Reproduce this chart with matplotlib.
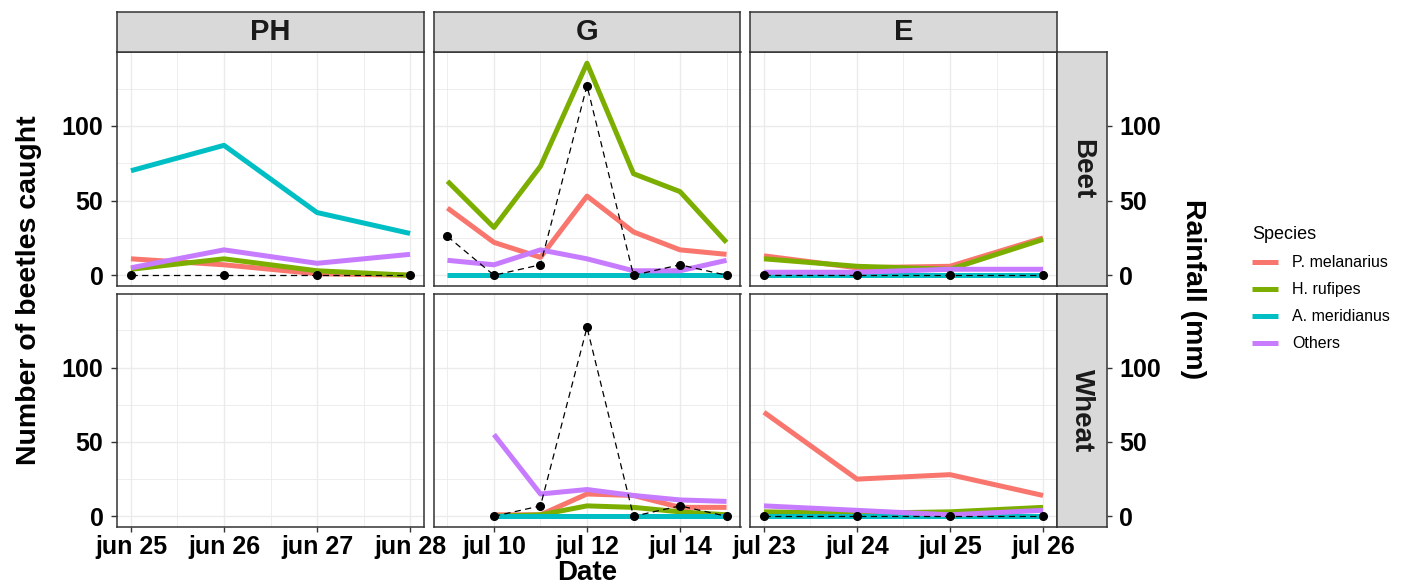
import datetime as dt

import matplotlib
matplotlib.use("Agg")
import matplotlib.pyplot as plt
import matplotlib.dates as mdates
from matplotlib.lines import Line2D
from matplotlib.ticker import FixedLocator, FuncFormatter

plt.rcParams['font.family'] = ['Liberation Sans', 'DejaVu Sans']

# ---------------------------------------------------------------- data
species = ["P. melanarius", "H. rufipes", "A. meridianus", "Others"]
species_colors = ["#F8766D", "#7CAE00", "#00BFC4", "#C77CFF"]
sites = ["PH", "G", "E"]
crops = ["Beet", "Wheat"]

ph_dates = ["2019-06-25", "2019-06-26", "2019-06-27", "2019-06-28"]
g_dates = ["2019-07-09", "2019-07-10", "2019-07-11", "2019-07-12",
           "2019-07-13", "2019-07-14", "2019-07-15"]
g_wheat_dates = g_dates[1:]
e_dates = ["2019-07-23", "2019-07-24", "2019-07-25", "2019-07-26"]

ph_ticks = ph_dates
g_ticks = ["2019-07-10", "2019-07-12", "2019-07-14"]
e_ticks = e_dates

# PH - Beet
ph_beet_melanarius = [11, 7, 1, 0]
ph_beet_rufipes = [4, 11, 3, 0]
ph_beet_meridianus = [70, 87, 42, 28]
ph_beet_others = [5, 17, 8, 14]
ph_beet_rain = [0, 0, 0, 0]

# G - Beet
g_beet_melanarius = [45, 22, 12, 53, 29, 17, 14]
g_beet_rufipes = [63, 32, 73, 142, 68, 56, 22]
g_beet_meridianus = [0, 0, 0, 0, 0, 0, 0]
g_beet_others = [10, 7, 17, 11, 3, 3, 10]
g_beet_rain = [26, 0, 7, 127, 0, 7, 0]

# G - Wheat
g_wheat_melanarius = [1, 1, 15, 14, 6, 6]
g_wheat_rufipes = [0, 1, 7, 6, 3, 1]
g_wheat_meridianus = [0, 0, 0, 0, 0, 0]
g_wheat_others = [55, 15, 18, 14, 11, 10]
g_wheat_rain = [0, 7, 127, 0, 7, 0]

# E - Beet
e_beet_melanarius = [13, 5, 6, 25]
e_beet_rufipes = [11, 6, 4, 24]
e_beet_meridianus = [0, 0, 0, 0]
e_beet_others = [2, 2, 4, 4]
e_beet_rain = [0, 0, 0, 0]

# E - Wheat
e_wheat_melanarius = [70, 25, 28, 14]
e_wheat_rufipes = [3, 2, 3, 6]
e_wheat_meridianus = [0, 0, 0, 0]
e_wheat_others = [7, 4, 1, 4]
e_wheat_rain = [0, 0, 0, 0]

y_major = [0, 50, 100]
y_minor = [25, 75, 125]

# ---------------------------------------------------------------- helpers
def to_num(dates):
    return [mdates.date2num(dt.datetime.strptime(d, "%Y-%m-%d")) for d in dates]


panels = {
    ("PH", "Beet"): (ph_dates, [ph_beet_melanarius, ph_beet_rufipes,
                                ph_beet_meridianus, ph_beet_others], ph_beet_rain),
    ("PH", "Wheat"): None,
    ("G", "Beet"): (g_dates, [g_beet_melanarius, g_beet_rufipes,
                              g_beet_meridianus, g_beet_others], g_beet_rain),
    ("G", "Wheat"): (g_wheat_dates, [g_wheat_melanarius, g_wheat_rufipes,
                                     g_wheat_meridianus, g_wheat_others], g_wheat_rain),
    ("E", "Beet"): (e_dates, [e_beet_melanarius, e_beet_rufipes,
                              e_beet_meridianus, e_beet_others], e_beet_rain),
    ("E", "Wheat"): (e_dates, [e_wheat_melanarius, e_wheat_rufipes,
                               e_wheat_meridianus, e_wheat_others], e_wheat_rain),
}
site_dates = {"PH": ph_dates, "G": g_dates, "E": e_dates}
site_ticks = {"PH": ph_ticks, "G": g_ticks, "E": e_ticks}


def minor_ticks(site):
    t = to_num(site_ticks[site])
    d = to_num(site_dates[site])
    step = t[1] - t[0]
    out = []
    v = t[0] - step / 2
    while v <= d[-1] + 1e-9:
        if v >= d[0] - 1e-9:
            out.append(v)
        v += step
    return out


date_fmt = FuncFormatter(lambda x, pos: mdates.num2date(x).strftime("%b %d").lower())

# ---------------------------------------------------------------- layout (pixels)
W, H = 1421, 586
fig = plt.figure(figsize=(W / 100, H / 100), dpi=100)

col_x = [(117, 424), (433.5, 740.5), (750, 1057)]
row_y = [(52, 286), (294, 527)]
strip_top = (12, 52)
strip_right = (1057, 1107)


def rect(x0, x1, y0, y1):
    return [x0 / W, 1 - y1 / H, (x1 - x0) / W, (y1 - y0) / H]


border = "#333333"
grid_c = "#EBEBEB"
ylim = (-7.2, 149.5)

for ci, site in enumerate(sites):
    dnum = to_num(site_dates[site])
    span = dnum[-1] - dnum[0]
    xlim = (dnum[0] - 0.05 * span, dnum[-1] + 0.05 * span)
    for ri, crop in enumerate(crops):
        ax = fig.add_axes(rect(col_x[ci][0], col_x[ci][1], row_y[ri][0], row_y[ri][1]))
        ax.set_xlim(*xlim)
        ax.set_ylim(*ylim)
        ax.set_facecolor("white")
        for s in ax.spines.values():
            s.set_color(border)
            s.set_linewidth(1.1)
            s.set_zorder(10)
        ax.xaxis.set_major_locator(FixedLocator(to_num(site_ticks[site])))
        ax.xaxis.set_minor_locator(FixedLocator(minor_ticks(site)))
        ax.yaxis.set_major_locator(FixedLocator(y_major))
        ax.yaxis.set_minor_locator(FixedLocator(y_minor))
        ax.grid(which="major", color=grid_c, lw=1.0, zorder=0)
        ax.grid(which="minor", color=grid_c, lw=0.6, zorder=0)
        ax.set_axisbelow(True)
        ax.tick_params(which="minor", length=0)
        ax.tick_params(which="major", color=border, width=1.0)
        ax.tick_params(axis="x", length=3.6, pad=2.5, labelsize=18)
        ax.tick_params(axis="y", length=4.3, pad=5.5, labelsize=18)

        if ri == 1:
            ax.xaxis.set_major_formatter(date_fmt)
            for lab in ax.get_xticklabels():
                lab.set_fontweight("bold")
        else:
            ax.tick_params(axis="x", length=0, labelbottom=False)
        if ci == 0:
            for lab in ax.get_yticklabels():
                lab.set_fontweight("bold")
        else:
            ax.tick_params(axis="y", length=0, labelleft=False)

        data = panels[(site, crop)]
        if data is not None:
            dates, series, rain = data
            x = to_num(dates)
            for vals, col in zip(series, species_colors):
                ax.plot(x, vals, color=col, lw=3.6, solid_capstyle="butt",
                        solid_joinstyle="round", zorder=3)
            ax.plot(x, rain, color="black", lw=0.9, ls="--", dashes=(5, 3.5),
                    marker="o", ms=5.5, zorder=5)

        # column strips on top
        if ri == 0:
            sax = fig.add_axes(rect(col_x[ci][0], col_x[ci][1], strip_top[0], strip_top[1]))
            sax.set_facecolor("#D9D9D9")
            sax.set_xticks([])
            sax.set_yticks([])
            for s in sax.spines.values():
                s.set_color(border)
                s.set_linewidth(1.1)
            sax.text(0.5, 0.5, site, transform=sax.transAxes, ha="center",
                     va="center", fontsize=21, fontweight="bold", color="#1A1A1A")

# row strips on the right, carrying the rainfall axis
for ri, crop in enumerate(crops):
    rax = fig.add_axes(rect(strip_right[0], strip_right[1], row_y[ri][0], row_y[ri][1]))
    rax.set_facecolor("#D9D9D9")
    rax.set_ylim(*ylim)
    rax.set_xticks([])
    rax.yaxis.tick_right()
    rax.yaxis.set_major_locator(FixedLocator(y_major))
    rax.tick_params(axis="y", length=3.6, width=1.0, color=border, pad=5, labelsize=18)
    for lab in rax.get_yticklabels():
        lab.set_fontweight("bold")
    for s in rax.spines.values():
        s.set_color(border)
        s.set_linewidth(1.1)
    rax.text(0.5, 0.5, crop, transform=rax.transAxes, ha="center", va="center",
             rotation=-90, fontsize=20, fontweight="bold", color="#1A1A1A")

# axis titles
fig.text(29 / W, 1 - 290 / H, "Number of beetles caught", rotation=90,
         ha="center", va="center", fontsize=20.5, fontweight="bold")
fig.text(1193 / W, 1 - 289 / H, "Rainfall (mm)", rotation=-90,
         ha="center", va="center", fontsize=20.5, fontweight="bold")
fig.text(587 / W, 1 - 580 / H, "Date", ha="center", va="baseline",
         fontsize=20, fontweight="bold")

# legend
handles = [Line2D([0], [0], color=c, lw=3.6, solid_capstyle="butt") for c in species_colors]
fig.legend(handles, species, title="Species", loc="upper left",
           bbox_to_anchor=(1238 / W, 1 - 212 / H), frameon=False,
           fontsize=11.5, title_fontsize=13, handlelength=1.6,
           handletextpad=0.9, labelspacing=0.75, alignment="left")

fig.savefig("out.png", dpi=100)
